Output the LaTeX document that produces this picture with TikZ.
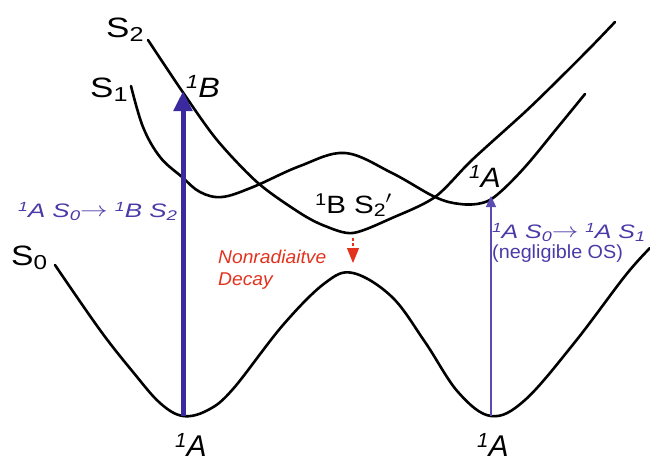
\documentclass[tikz,border=0pt]{standalone}
\usepackage{fontspec}
\setmainfont{Liberation Sans}
\usetikzlibrary{arrows.meta}
\definecolor{arrblue}{HTML}{3B2A9E}
\definecolor{txtblue}{HTML}{4A3AA8}
\definecolor{thinblue}{HTML}{5A4BB2}
\definecolor{decred}{HTML}{E3321E}
\newcommand\lo[1]{\raisebox{-0.3ex}{\scalebox{0.72}{#1}}}
\newcommand\hi[1]{\raisebox{0.55ex}{\scalebox{0.68}{#1}}}
\newcommand\rarr{\raisebox{0.05ex}{$\rightarrow$}}
\newcommand\widen[2]{\scalebox{#1}[1]{#2}}
\tikzset{
  curve/.style={line width=2.6pt, line cap=round, line join=round},
  lab/.style={inner sep=0pt, anchor=base west, font=\fontsize{28}{30}\selectfont},
  bigA/.style={inner sep=0pt, anchor=base west, font=\fontsize{30}{32}\selectfont\itshape},
  bluetxt/.style={inner sep=0pt, anchor=base west, text=txtblue, font=\fontsize{19.5}{22}\selectfont\itshape},
  redtxt/.style={inner sep=0pt, anchor=base west, text=decred, align=left, font=\fontsize{18.5}{22}\selectfont\itshape},
}
\begin{document}
\begin{tikzpicture}[x=1pt,y=-1pt]
\useasboundingbox (0,0) rectangle (650,463);
% S0
\draw[curve] plot[smooth, tension=0.6] coordinates {
 (55,265) (100,330) (133,372) (160,403) (183,416) (208,410) (233,389) (283,325) (325,283) (353,273)
 (392,297) (425,342) (458,392) (491,416) (525,400) (575,342) (625,276) (650,248)};
% S1
\draw[curve] plot[smooth, tension=0.6] coordinates {
 (131,86) (143,127) (160,157) (182,177) (200,192) (222,197) (253,187) (300,166) (345,153)
 (392,173) (435,197) (460,204) (482,203) (498,194) (525,167) (558,127) (585,94)};
% S2
\draw[curve] plot[smooth, tension=0.5] coordinates {
 (148,40) (182,91) (217,140) (258,183) (300,213) (325,226) (353,233) (392,218) (435,197)
 (472,160) (525,112) (558,80) (590,48) (615,22)};
% points
\coordinate (minL) at (183,416);
\coordinate (Bpt) at (183,91);
\coordinate (minR) at (491,416);
\coordinate (Apt) at (491,196);
\coordinate (S2min) at (353,238);
\coordinate (redtip) at (353,263);
% arrows
\draw[arrblue, line width=5pt, -{Triangle[length=20pt,width=18pt]}] (minL) -- (Bpt);
\draw[thinblue, line width=1.4pt, -{Triangle[length=11pt,width=10pt]}] (minR) -- (Apt);
\draw[decred, line width=1.6pt, dash pattern=on 3pt off 2pt] (S2min) -- ++(0,10) coordinate (reddash);
\draw[decred, line width=1pt, -{Triangle[length=15pt,width=12pt]}] (reddash) -- (redtip);
% labels
\node[lab] (lS2) at (106,37) {\widen{1.25}{S\lo{2}}};
\node[lab] (lS1) at (90,97) {\widen{1.25}{S\lo{1}}};
\node[lab] (lS0) at (11,265) {\widen{1.2}{S\lo{0}}};
\node[lab, font=\fontsize{28}{30}\selectfont\itshape] (l1B) at (186,97) {\widen{1.15}{\hi{1}B}};
\node[lab, font=\fontsize{25}{28}\selectfont] (lBS2p) at (315,213) {\widen{1.18}{\hi{1}B S\lo{2}$'$}};
\node[lab, font=\fontsize{28}{30}\selectfont\itshape] (l1Ar) at (469,187) {\widen{1.08}{\hi{1}A}};
\node[bluetxt] (tL) at (18,217) {\widen{1.33}{\hi{1}A S\lo{0}\rarr\ \hi{1}B S\lo{2}}};
\node[bluetxt] (tR) at (492,238) {\widen{1.28}{\hi{1}A S\lo{0}\rarr\ \hi{1}A S\lo{1}}};
\node[bluetxt, font=\fontsize{19}{22}\selectfont] (tOS) at (492,258) {\widen{1.04}{(negligible OS)}};
\node[redtxt] (tNR) at (218,263) {\widen{1.04}{Nonradiaitve}};
\node[redtxt] (tDec) at (218,285) {\widen{1.04}{Decay}};
\node[bigA] (bA1) at (175,456) {\hi{1}A};
\node[bigA] (bA2) at (477,456) {\hi{1}A};
\end{tikzpicture}
\end{document}
